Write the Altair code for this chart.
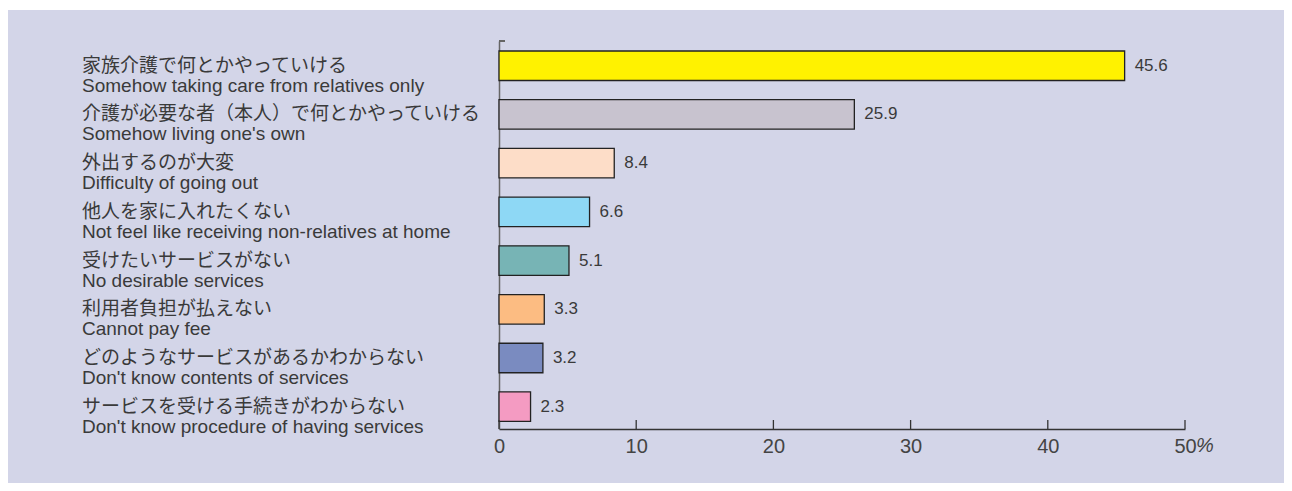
import altair as alt
import pandas as pd

# ---- data ----
jp_labels = [
    "家族介護で何とかやっていける",
    "介護が必要な者（本人）で何とかやっていける",
    "外出するのが大変",
    "他人を家に入れたくない",
    "受けたいサービスがない",
    "利用者負担が払えない",
    "どのようなサービスがあるかわからない",
    "サービスを受ける手続きがわからない",
]
en_labels = [
    "Somehow taking care from relatives only",
    "Somehow living one's own",
    "Difficulty of going out",
    "Not feel like receiving non-relatives at home",
    "No desirable services",
    "Cannot pay fee",
    "Don't know contents of services",
    "Don't know procedure of having services",
]
values = [45.6, 25.9, 8.4, 6.6, 5.1, 3.3, 3.2, 2.3]
bar_colors = ["#FFF200", "#C8C3CF", "#FDDDC8", "#8ED8F5", "#77B4B5", "#FCBC82", "#7A8BC0", "#F49BC2"]
tick_values = [0, 10, 20, 30, 40, 50]

df = pd.DataFrame({"k": en_labels, "jp": jp_labels, "en": en_labels, "v": values})
ticks_df = pd.DataFrame({"t": tick_values})
pct_df = pd.DataFrame({"t": [50], "s": ["%"]})

BG = "#D3D5E8"
TXT = "#3a3a3a"
NUMFONT = "Liberation Sans, Arial, sans-serif"
JPFONT = "Noto Sans CJK JP"
ENFONT = "Liberation Sans, Arial, sans-serif"

W, H = 686, 388
PAD_L, PAD_T = 491, 33

yscale = alt.Scale(domain=en_labels, paddingInner=0.394, paddingOuter=0.18, align=0.57)
xscale = alt.Scale(domain=[0, 50], nice=False, zero=True)

yaxis = alt.Axis(labels=False, ticks=False, title=None, domain=True,
                 domainColor="#666666", domainWidth=1.5, grid=False)
xaxis = alt.Axis(values=tick_values, ticks=False, grid=False, title=None,
                 domainColor="#333333", domainWidth=1.5,
                 labelFont=NUMFONT, labelFontSize=20, labelColor="#444444",
                 labelPadding=7, labelFlush=False)

Y = alt.Y("k:N", sort=en_labels, scale=yscale, axis=yaxis, title=None)

base = alt.Chart(df)

bars = base.mark_bar(stroke="#222222", strokeWidth=1.3).encode(
    y=Y,
    x=alt.X("v:Q", scale=xscale, axis=xaxis, title=None),
    color=alt.Color("k:N", scale=alt.Scale(domain=en_labels, range=bar_colors), legend=None),
)

vals = base.mark_text(align="left", baseline="middle", dx=10, font=NUMFONT,
                      fontSize=17, color=TXT).encode(
    y=Y,
    x=alt.X("v:Q", scale=xscale, axis=xaxis, title=None),
    text=alt.Text("v:Q", format=".1f"),
)

jp_text = base.mark_text(align="left", baseline="alphabetic", dy=6, font=JPFONT,
                         fontSize=19, color=TXT).encode(
    y=Y,
    x=alt.value(-417),
    text="jp:N",
)

en_text = base.mark_text(align="left", baseline="alphabetic", dy=26, font=ENFONT,
                         fontSize=19, color=TXT).encode(
    y=Y,
    x=alt.value(-417),
    text="en:N",
)

xticks = alt.Chart(ticks_df).mark_rule(color="#333333", strokeWidth=1.3).encode(
    x=alt.X("t:Q", scale=xscale, axis=xaxis, title=None),
    y=alt.value(H),
    y2=alt.value(H - 9),
)

pct = alt.Chart(pct_df).mark_text(align="left", baseline="top", dx=11,
                                  font=NUMFONT, fontSize=20, fontStyle="italic",
                                  color="#444444").encode(
    x=alt.X("t:Q", scale=xscale, axis=xaxis, title=None),
    y=alt.value(H + 7),
    text="s:N",
)

top_tick = alt.Chart(ticks_df).mark_rule(color="#666666", strokeWidth=1.5).encode(
    x=alt.value(0), x2=alt.value(6), y=alt.value(0)
)

white_strip = alt.Chart(ticks_df).mark_rect(color="#ffffff").encode(
    x=alt.value(-PAD_L), x2=alt.value(1276 - PAD_L), y=alt.value(-PAD_T), y2=alt.value(-PAD_T + 2)
)

chart = alt.layer(white_strip, bars, vals, jp_text, en_text, xticks, pct, top_tick).properties(
    width=W, height=H,
    autosize=alt.AutoSizeParams(type="none"),
    padding={"left": PAD_L, "top": PAD_T, "right": 1276 - PAD_L - W, "bottom": 475 - PAD_T - H},
    background=BG,
).configure_view(stroke=None)

chart.save("out.html", embed_options={"renderer": "svg", "actions": False})
